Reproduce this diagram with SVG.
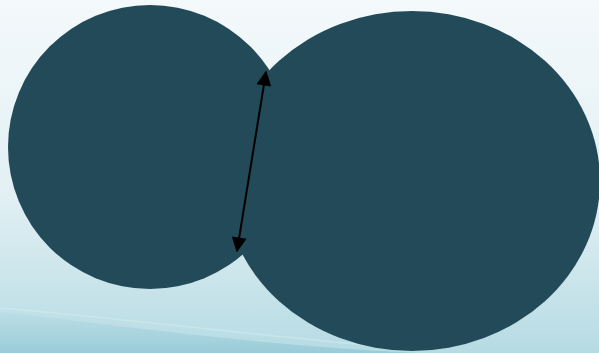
<svg xmlns="http://www.w3.org/2000/svg" width="599" height="353" viewBox="0 0 599 353">
<defs>
<linearGradient id="bg" x1="0" y1="0" x2="0" y2="1">
<stop offset="0" stop-color="#f4f9fb"/>
<stop offset="0.55" stop-color="#e2f0f4"/>
<stop offset="1" stop-color="#b6dbe3"/>
</linearGradient>
<linearGradient id="band" x1="0" y1="0" x2="0" y2="1">
<stop offset="0" stop-color="#9fd0dc" stop-opacity="0.2"/>
<stop offset="1" stop-color="#8cc6d4" stop-opacity="0.7"/>
</linearGradient>
<marker id="ah" viewBox="0 0 10 10" refX="9" refY="5" markerWidth="8" markerHeight="7.5" orient="auto-start-reverse">
<path d="M0,0 L10,5 L0,10 z" fill="#000"/>
</marker>
<style>
.blob{fill:#234a58}
.conn{stroke:#000;stroke-width:2;fill:none}
</style>
</defs>
<rect width="599" height="353" fill="url(#bg)"/>
<path d="M0,312 C120,325 250,345 420,353 L0,353 z" fill="url(#band)"/>
<path d="M0,308 C120,318 250,335 420,350" stroke="#d6eef3" stroke-width="1.5" fill="none" opacity="0.5"/>
<g id="left-circle"><ellipse class="blob" cx="150" cy="147" rx="142" ry="142"/></g>
<g id="right-ellipse"><ellipse class="blob" cx="412" cy="181" rx="188" ry="170"/></g>
<g id="connectors">
<line class="conn" x1="266" y1="72" x2="237" y2="251" marker-start="url(#ah)" marker-end="url(#ah)"/>
</g>
</svg>
